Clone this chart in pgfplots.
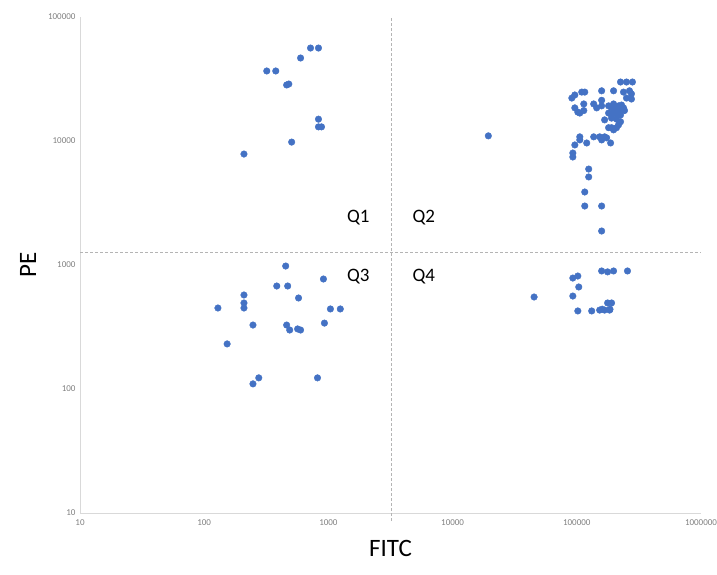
\documentclass[border=0pt]{standalone}
\usepackage{pgfplots}
\pgfplotsset{compat=1.18}
\usepackage{fontspec}
\setmainfont{Carlito}
\definecolor{dotblue}{HTML}{4472C4}
\definecolor{axgray}{HTML}{D9D9D9}
\definecolor{dashgray}{HTML}{B4B4B4}
\definecolor{tickgray}{HTML}{7F7F7F}
\begin{document}
\begin{tikzpicture}
\begin{axis}[
  xmode=log, ymode=log,
  xmin=10, xmax=1000000, ymin=10, ymax=100000,
  scale only axis, width=621pt, height=496pt,
  axis x line*=bottom, axis y line*=left,
  axis line style={draw=axgray, line width=0.9pt},
  major tick length=0pt, minor tick length=0pt,
  xtick={10,100,1000,10000,100000,1000000},
  ytick={10,100,1000,10000,100000},
  log ticks with fixed point,
  /pgf/number format/1000 sep={},
  /pgf/number format/assume math mode=true,
  ticklabel style={font=\fontsize{9}{10}\selectfont, text=tickgray},
  xticklabel style={yshift=-3pt},
  yticklabel style={xshift=-1pt},
  xlabel={FITC}, ylabel={PE},
  xlabel style={at={(axis description cs:0.5,-0.0706)}, anchor=center, font=\fontsize{25}{28}\selectfont},
  ylabel style={at={(axis description cs:-0.0837,0.5)}, anchor=center, font=\fontsize{25}{28}\selectfont},
  clip=false,
]
% dashed quadrant lines
\addplot[dashgray, dash pattern=on 3pt off 2pt, line width=0.7pt, forget plot] coordinates {(3190,8.6) (3190,100000)};
\addplot[dashgray, dash pattern=on 3pt off 2pt, line width=0.7pt, forget plot] coordinates {(10,1273) (1000000,1273)};
% data
\addplot[only marks, mark=*, mark size=3.3pt, mark options={draw=dotblue, fill=dotblue}] coordinates {
% Q1
(209,7850) (506,9800) (319,36700) (377,36700) (461,28300) (480,28800)
(597,46700) (718,56200) (832,56200) (832,15000) (832,13000) (880,13000)
% Q3
(453,981) (912,771) (384,677) (470,677) (209,573) (575,542) (209,494)
(209,450) (129,450) (1038,442) (1247,442) (247,328) (461,328) (929,340)
(488,299) (565,305) (597,299) (153,231) (275,123) (247,110) (817,123)
% Q4
(45300,552) (92900,785) (101900,815) (158500,895) (177000,880) (197700,895)
(255900,895) (103700,665) (92900,562) (101900,426) (131800,426) (152800,433)
(167500,433) (183700,433) (177000,494) (190500,494) (160000,440) (185000,440)
% Q2
(19400,11000)
(224900,29900) (251200,29900) (280500,29900)
(91200,22200) (96400,23500) (109600,24800) (115900,24800) (158500,25400)
(197700,25400) (237700,24800) (265500,25400) (275400,24000) (251200,22200)
(275400,21800)
(96400,18500) (101900,17100) (105700,16800) (113800,17600) (113800,19900)
(136800,19900) (158500,21300) (158500,19200) (144500,18500)
(180300,19200) (190500,18500) (197700,19900) (208900,18500) (216800,19200)
(224900,18000) (229100,19500) (237700,18500) (242100,17600) (180300,16800)
(190500,16200) (197700,17100) (208900,16500) (216800,17100) (224900,16200)
(190500,15300) (208900,15000) (167500,14800) (216800,13500) (224900,14300)
(180300,12800) (197700,12300) (190500,12800) (208900,12800)
(105700,10800) (105700,10200) (96400,9290) (120200,9640) (136800,10800)
(152800,10800) (167500,10800) (173800,10600) (158500,10200) (187100,9640)
(92900,8000) (92900,7430) (124700,5940) (124700,5130) (115900,3880)
(115900,2990) (158500,2990) (158500,1880)
};
% quadrant labels
\node[font=\fontsize{19}{21}\selectfont] at (axis cs:1738,2393) {Q1};
\node[font=\fontsize{19}{21}\selectfont] at (axis cs:5860,2393) {Q2};
\node[font=\fontsize{19}{21}\selectfont] at (axis cs:1738,800) {Q3};
\node[font=\fontsize{19}{21}\selectfont] at (axis cs:5860,800) {Q4};
\coordinate (bl) at (rel axis cs:0,0);
\coordinate (tr) at (rel axis cs:1,1);
\end{axis}
\pgfresetboundingbox
\path[use as bounding box] ([xshift=-80pt,yshift=-61pt]bl) rectangle ([xshift=16pt,yshift=17pt]tr);
\end{tikzpicture}
\end{document}
